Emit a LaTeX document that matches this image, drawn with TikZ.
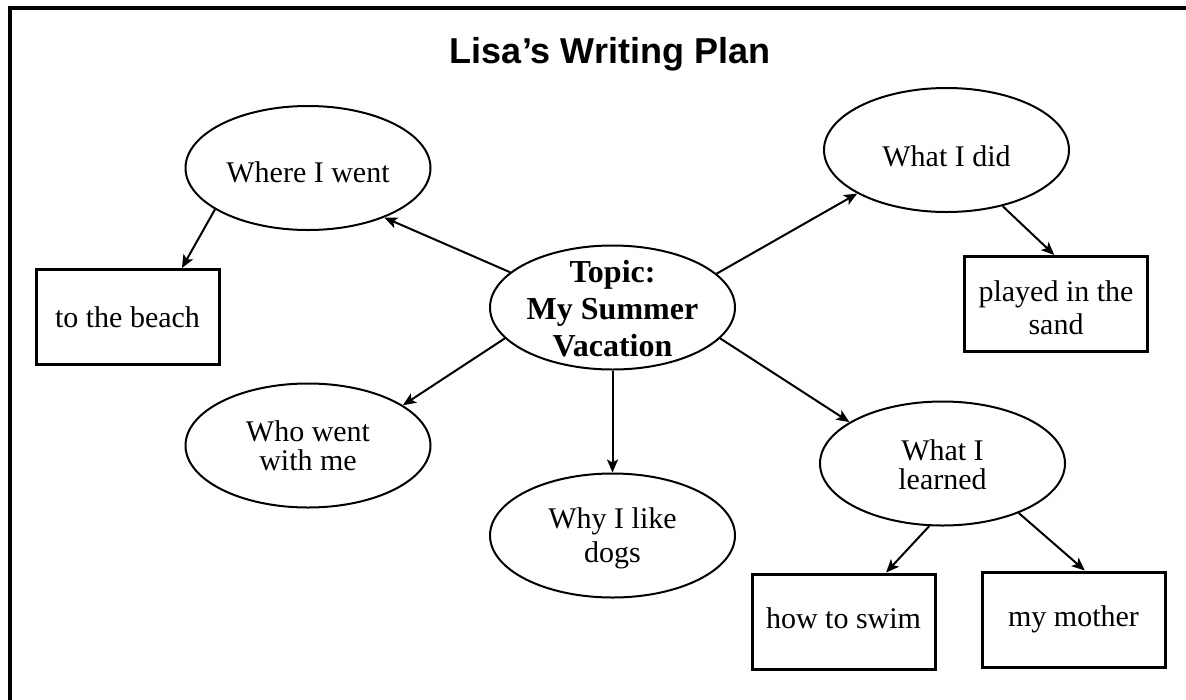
\documentclass[tikz,border=0pt]{standalone}
\usepackage{fontspec}
\setmainfont{Liberation Serif}
\newfontfamily\titlefont{Liberation Sans}
\usetikzlibrary{arrows.meta,shapes.geometric}

\begin{document}
\begin{tikzpicture}[x=1pt,y=-1pt,
  oval/.style={draw, line width=2pt, ellipse, minimum width=245pt, minimum height=124pt, inner sep=0pt},
  txt/.style={align=center, font=\fontsize{30}{29}\selectfont, inner sep=0pt},
  toptxt/.style={align=center, font=\fontsize{32}{37}\selectfont\bfseries, inner sep=0pt},
  box/.style={draw, line width=3pt, minimum width=183pt, minimum height=95pt, inner sep=0pt, align=center, font=\fontsize{30}{33}\selectfont},
  boxtxt/.style={align=center, font=\fontsize{30}{33}\selectfont, inner sep=0pt},
  arr/.style={line width=2pt, -{Stealth[length=13pt, width=11pt, inset=3pt]}}
]
\useasboundingbox (0,0) rectangle (1186,699);
\clip (0,0) rectangle (1186,699);
\draw[line width=4pt] (9.5,8) rectangle (1200,715);

\node[anchor=base, font=\titlefont\bfseries\fontsize{36}{40}\selectfont] (title) at (610,63) {Lisa’s Writing Plan};

\node[oval, label={[toptxt, yshift=-1pt]center:Topic:\\My Summer\\Vacation}] (topic) at (612.5,307.5) {};
\node[oval, label={[txt, yshift=-4pt]center:Where I went}] (where) at (308,168) {};
\node[oval, label={[txt, yshift=-6pt]center:What I did}] (did) at (946.5,150) {};
\node[oval, label={[txt]center:Who went\\with me}] (who) at (308,445.5) {};
\node[oval, label={[txt, yshift=-3pt, font=\fontsize{30}{34}\selectfont]center:Why I like\\dogs}] (dogs) at (612.5,535.5) {};
\node[oval, label={[txt, yshift=-1pt]center:What I\\learned}] (learned) at (942.5,463.5) {};

\node[box] (beach) at (127.5,317) {to the beach};
\node[box, label={[boxtxt, yshift=-4pt]center:played in the\\sand}] (sand) at (1056,304) {};
\node[box, label={[boxtxt, yshift=3pt]center:how to swim}] (swim) at (843.5,621.5) {};
\node[box] (mother) at (1073.5,619.5) {my mother};

\draw[arr] (topic.161.7) -- (where.-33.7);
\draw[arr] (where.-156.8) -- (beach.42);
\draw[arr] (topic.18) -- (did.206.3);
\draw[arr] (did.-45) -- (sand.92);
\draw[arr] (topic.-16.8) -- (learned.156.7);
\draw[arr] (topic.196.8) -- (who.23.8);
\draw[arr] (topic.south) -- (dogs.north);
\draw[arr] (learned.-102.3) -- (swim.49);
\draw[arr] (learned.-33) -- (mother.77);
\end{tikzpicture}
\end{document}
